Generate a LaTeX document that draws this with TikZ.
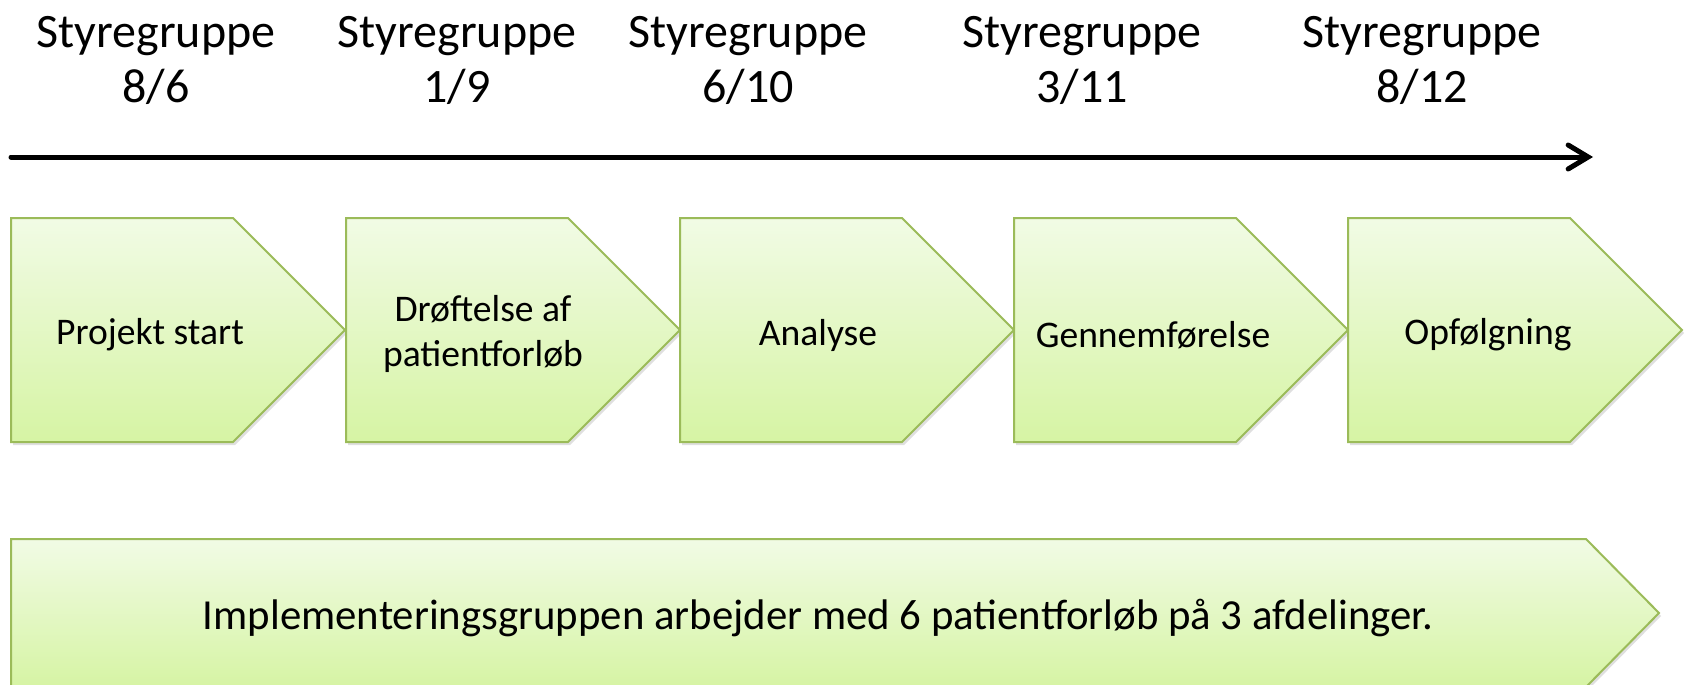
\documentclass[tikz,border=0pt]{standalone}
\usepackage{fontspec}
\setmainfont{Carlito}
\usepackage{tikz}
\usetikzlibrary{arrows.meta,shadows}

\definecolor{phaseline}{RGB}{155,187,89}
\definecolor{phasetop}{RGB}{241,251,229}
\definecolor{phasebot}{RGB}{214,244,164}

\begin{document}
\begin{tikzpicture}[x=0.5pt, y=-0.5pt,
  every node/.style={font=\fontsize{18.8}{22.5}\selectfont, align=center, inner sep=0pt},
  meeting/.style={font=\fontsize{24}{27.5}\selectfont},
  bigtext/.style={font=\fontsize{21.4}{25}\selectfont},
  phase/.style={draw=phaseline, line width=1pt, line join=miter,
                top color=phasetop, bottom color=phasebot,
                drop shadow={opacity=0.25, shadow xshift=1pt, shadow yshift=-1.5pt}},
  timeline/.style={line width=2.5pt, line cap=round,
                   -{Straight Barb[length=10pt, width=12pt, line width=2.5pt, line cap=round]}}]

\useasboundingbox (0,0) rectangle (1688,685);

%% ── Row 1: steering group meetings ──────────────────────────────
\node[meeting] (sg1) at (156, 60)  {Styregruppe\\8/6};
\node[meeting] (sg2) at (457, 60)  {Styregruppe\\1/9};
\node[meeting] (sg3) at (748, 60)  {Styregruppe\\6/10};
\node[meeting] (sg4) at (1082, 60) {Styregruppe\\3/11};
\node[meeting] (sg5) at (1422, 60) {Styregruppe\\8/12};

%% ── Time line ────────────────────────────────────────────────────
\coordinate (tstart) at (11, 157);
\coordinate (tend)   at (1593, 157);
\draw[timeline] (tstart) -- (tend);

%% ── Row 2: phase chevrons ────────────────────────────────────────
\foreach \l in {11, 346, 680, 1014, 1348}
  \draw[phase] (\l,218) -- ++(222,0) -- ++(112,112) -- ++(-112,112) -- ++(-222,0) -- cycle;

\node (start)   at (150, 335)  {Projekt start};
\node (droeft)  at (483, 334)  {Drøftelse af\\patientforløb};
\node (analyse) at (818, 335)  {Analyse};
\node (gennem)  at (1153, 335) {Gennemførelse};
\node (opfoelg) at (1488, 335) {Opfølgning};

%% ── Row 3: implementation group ──────────────────────────────────
\draw[phase] (11,539) -- (1586,539) -- (1659,613) -- (1586,687) -- (11,687) -- cycle;
\node[bigtext] (impl) at (818, 618) {Implementeringsgruppen arbejder med 6 patientforløb på 3 afdelinger.};
\end{tikzpicture}
\end{document}
